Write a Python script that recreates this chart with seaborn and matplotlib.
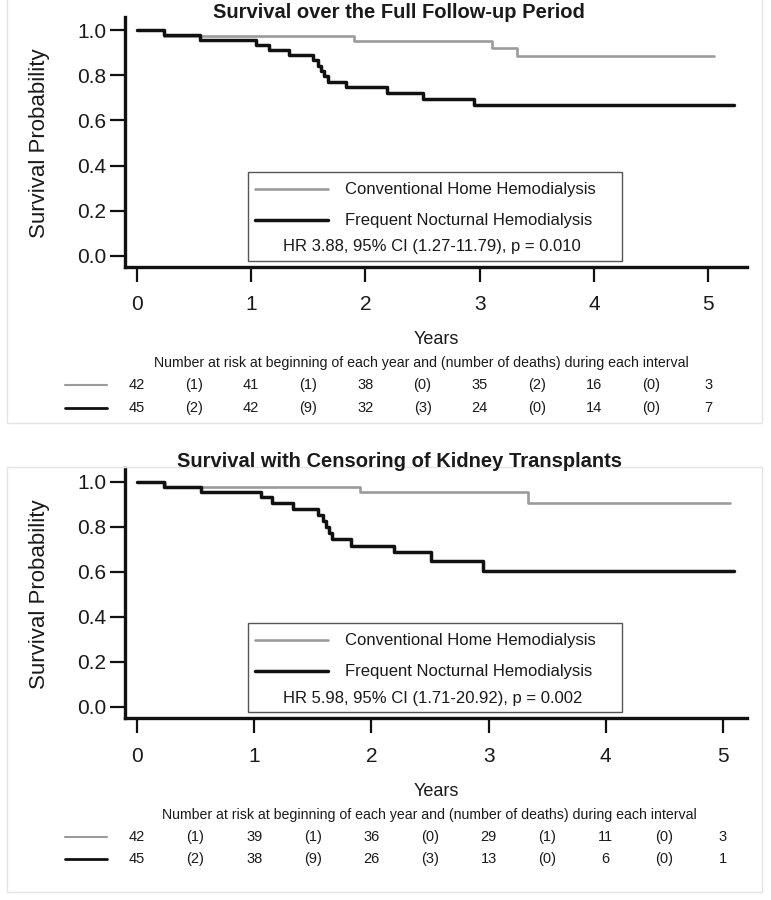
import matplotlib
matplotlib.use("Agg")
import numpy as np
import pandas as pd
import seaborn as sns
import matplotlib.pyplot as plt
import matplotlib.transforms as mtransforms
from matplotlib.lines import Line2D
from matplotlib.patches import Rectangle

sns.set_theme(style="white")
plt.rcParams['font.family'] = ['Liberation Sans', 'DejaVu Sans']

# ---------------- data ----------------
groups = ["Conventional Home Hemodialysis", "Frequent Nocturnal Hemodialysis"]

# Panel 1: full follow-up
full_conv_years = [0, 0.24, 1.90, 3.11, 3.33, 5.05]
full_conv_surv = [1.0, 0.976, 0.952, 0.920, 0.886, 0.886]
full_noct_years = [0, 0.237, 0.548, 1.044, 1.152, 1.329, 1.540, 1.583, 1.612,
                   1.640, 1.668, 1.833, 2.19, 2.50, 2.95, 5.23]
full_noct_surv = [1.0, 0.978, 0.956, 0.933, 0.911, 0.889, 0.866, 0.843, 0.819,
                  0.795, 0.771, 0.746, 0.722, 0.697, 0.670, 0.670]

# Panel 2: censoring of kidney transplants
cens_conv_years = [0, 0.24, 1.90, 3.34, 5.06]
cens_conv_surv = [1.0, 0.977, 0.953, 0.907, 0.907]
cens_noct_years = [0, 0.231, 0.546, 1.059, 1.151, 1.332, 1.542, 1.584, 1.612,
                   1.639, 1.668, 1.828, 2.193, 2.508, 2.95, 5.09]
cens_noct_surv = [1.0, 0.978, 0.956, 0.930, 0.907, 0.879, 0.852, 0.824, 0.797,
                  0.771, 0.745, 0.716, 0.686, 0.649, 0.604, 0.604]

# risk tables
full_risk_conv = [42, 41, 38, 35, 16, 3]
full_deaths_conv = [1, 1, 0, 2, 0]
full_risk_noct = [45, 42, 32, 24, 14, 7]
full_deaths_noct = [2, 9, 3, 0, 0]
cens_risk_conv = [42, 39, 36, 29, 11, 3]
cens_deaths_conv = [1, 1, 0, 1, 0]
cens_risk_noct = [45, 38, 26, 13, 6, 1]
cens_deaths_noct = [2, 9, 3, 0, 0]

titles = ["Survival over the Full Follow-up Period",
          "Survival with Censoring of Kidney Transplants"]
hr_texts = ["HR 3.88, 95% CI (1.27-11.79), p = 0.010",
            "HR 5.98, 95% CI (1.71-20.92), p = 0.002"]
year_ticks = [0, 1, 2, 3, 4, 5]
surv_ticks = [0.0, 0.2, 0.4, 0.6, 0.8, 1.0]
risk_caption = ("Number at risk at beginning of each year and "
                "(number of deaths) during each interval")

# ---------------- style ----------------
GRAY = "#9b9b9b"
BLACK = "#111111"
TXT = "#1a1a1a"
palette = {groups[0]: GRAY, groups[1]: BLACK}
sizes = {groups[0]: 1.9, groups[1]: 2.5}

W, H = 771, 900
fig = plt.figure(figsize=(W / 100, H / 100), dpi=100)

panels = [
    dict(years=(full_conv_years, full_noct_years), surv=(full_conv_surv, full_noct_surv),
         risk=(full_risk_conv, full_risk_noct), deaths=(full_deaths_conv, full_deaths_noct),
         rect=[125 / W, 1 - 267 / H, 622 / W, 250 / H], xlim=(-0.105, 5.34),
         ylim=(-0.049, 1.058), title_y=12, cap_x=0.477, frame=(-2, 423)),
    dict(years=(cens_conv_years, cens_noct_years), surv=(cens_conv_surv, cens_noct_surv),
         risk=(cens_risk_conv, cens_risk_noct), deaths=(cens_deaths_conv, cens_deaths_noct),
         rect=[125 / W, 1 - 718.3 / H, 622 / W, 250.3 / H], xlim=(-0.102, 5.205),
         ylim=(-0.052, 1.061), title_y=461.7, cap_x=0.490, frame=(467, 892)),
]

for i, p in enumerate(panels):
    # faint panel frame
    y0, y1 = p["frame"]
    fig.patches.append(Rectangle((7 / W, 1 - y1 / H), (762 - 7) / W, (y1 - y0) / H,
                                 transform=fig.transFigure, fill=False,
                                 ec="#e4e4e4", lw=1.0, zorder=0))

    ax = fig.add_axes(p["rect"])
    frames = []
    for g, yrs, sv in zip(groups, p["years"], p["surv"]):
        frames.append(pd.DataFrame({"Years": yrs, "Survival": sv, "Group": g}))
    df = pd.concat(frames, ignore_index=True)
    sns.lineplot(data=df, x="Years", y="Survival", hue="Group", size="Group",
                 palette=palette, sizes=sizes, estimator=None, sort=False,
                 drawstyle="steps-post", legend=False, ax=ax)

    ax.set_xlim(*p["xlim"])
    ax.set_ylim(*p["ylim"])
    ax.set_xticks(year_ticks)
    ax.set_xticklabels([str(t) for t in year_ticks])
    ax.set_yticks(surv_ticks)
    ax.set_yticklabels([f"{t:.1f}" for t in surv_ticks])
    sns.despine(ax=ax)
    for s in ("left", "bottom"):
        ax.spines[s].set_linewidth(2.4)
        ax.spines[s].set_color(BLACK)
    ax.tick_params(axis="both", which="major", direction="out", length=10.5,
                   width=1.6, color=BLACK, labelsize=15, labelcolor=TXT,
                   bottom=True, left=True)
    ax.tick_params(axis="y", pad=3)
    ax.tick_params(axis="x", pad=10)

    ax.set_ylabel("Survival Probability", fontsize=16, color=TXT)
    ax.yaxis.set_label_coords(-0.137, 0.494)
    ax.yaxis.label.set_verticalalignment("center")
    ax.set_xlabel("Years", fontsize=13, color=TXT)
    ax.xaxis.set_label_coords(0.5, -0.292)
    ax.xaxis.label.set_verticalalignment("center")

    # title
    fig.text(399 / W, 1 - p["title_y"] / H, titles[i], ha="center", va="center",
             fontsize=14.5, fontweight="bold", color=TXT)

    # legend box
    ax.add_patch(Rectangle((0.197, 0.024), 0.602, 0.357, transform=ax.transAxes,
                           fill=False, ec="#555555", lw=1.0, zorder=5))
    for g, yy in zip(groups, (0.311, 0.188)):
        ax.add_line(Line2D([0.209, 0.326], [yy, yy], transform=ax.transAxes,
                           color=palette[g], lw=sizes[g], zorder=6))
        ax.text(0.354, yy, g, transform=ax.transAxes, ha="left", va="center",
                fontsize=12, color=TXT)
    ax.text(0.494, 0.081, hr_texts[i], transform=ax.transAxes, ha="center",
            va="center", fontsize=12, color=TXT)

    # risk table
    trans = mtransforms.blended_transform_factory(ax.transData, ax.transAxes)
    ax.text(p["cap_x"], -0.385, risk_caption, transform=ax.transAxes, ha="center",
            va="center", fontsize=10.2, color=TXT)
    for g, risk, deaths, yy, lw in zip(groups, p["risk"], p["deaths"],
                                       (-0.473, -0.564), (1.5, 2.0)):
        ax.add_line(Line2D([-0.0957, -0.0283], [yy, yy], transform=ax.transAxes,
                           color=palette[g], lw=lw, clip_on=False))
        for k, n in enumerate(risk):
            ax.text(year_ticks[k], yy, str(n), transform=trans, ha="center",
                    va="center", fontsize=10.5, color=TXT)
        for k, d in enumerate(deaths):
            ax.text(year_ticks[k] + 0.5, yy, f"({d})", transform=trans,
                    ha="center", va="center", fontsize=10.5, color=TXT)

fig.savefig("out.png", dpi=100)
